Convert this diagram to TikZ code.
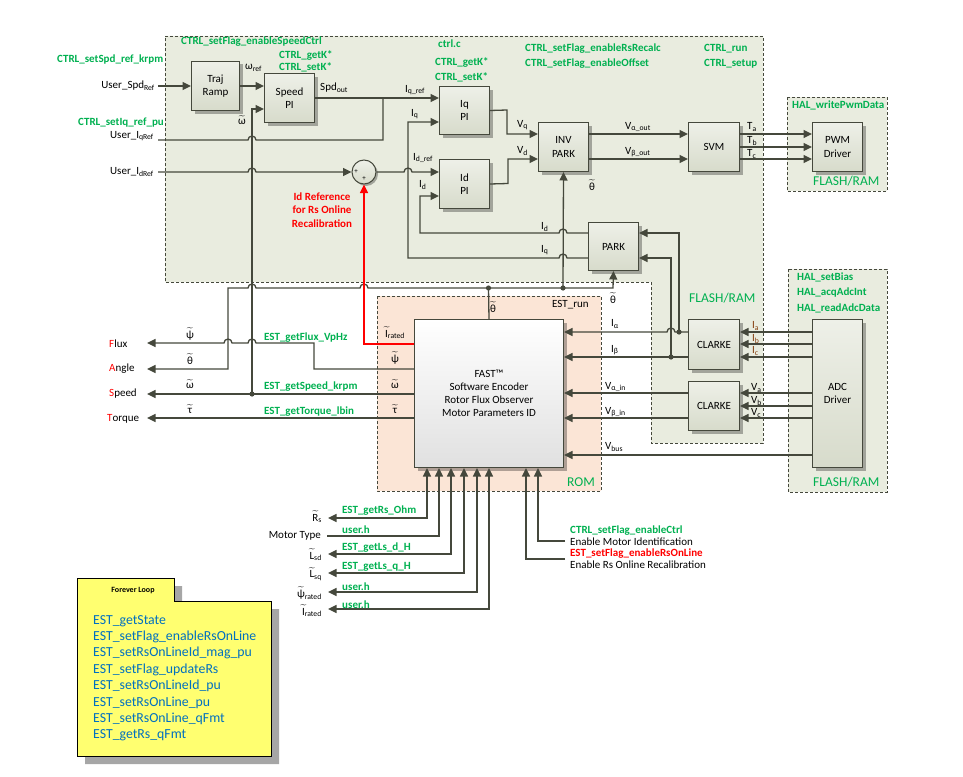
\documentclass[tikz,border=0pt]{standalone}
\usepackage{fontspec}
\usepackage{amsmath}
\setmainfont{Carlito}
\usetikzlibrary{arrows.meta,shadows}
\definecolor{lc}{HTML}{45483C}
\definecolor{grn}{HTML}{00B050}
\definecolor{bg}{HTML}{E9ECDF}
\definecolor{peach}{HTML}{FBE5D6}
\definecolor{blkT}{HTML}{EEF0E8}
\definecolor{blkB}{HTML}{D7DBCB}
\definecolor{blu}{HTML}{0070C0}
\definecolor{brn}{HTML}{843C0C}
\definecolor{noteY}{HTML}{FFFF70}
\newcommand{\fs}{\fontsize{11}{13.2}\selectfont}
\newcommand{\gf}{\fontsize{11}{13.2}\selectfont\bfseries}
\newcommand{\bigf}{\fontsize{13.5}{16}\selectfont}
\newcommand{\sbs}[1]{\textsubscript{#1}}
\newcommand{\tld}[1]{$\widetilde{\text{#1}}$}
\tikzset{
 ln/.style={draw=lc, line width=1.3pt},
 arr/.style={ln, -{Triangle[length=8.5pt,width=8pt]}},
 darr/.style={ln, {Triangle[length=8.5pt,width=8pt]}-{Triangle[length=8.5pt,width=8pt]}},
 redl/.style={draw=red, line width=1.2pt, -{Triangle[length=8.5pt,width=8pt]}},
 blk/.style={draw=lc, line width=1pt, top color=blkT, bottom color=blkB, anchor=north west,
   align=center, font=\fs, inner sep=0,
   drop shadow={shadow xshift=3pt, shadow yshift=-3pt, opacity=0.3, fill=black}},
 zone/.style={draw=lc, line width=0.8pt, dash pattern=on 3pt off 2pt},
 gl/.style={font=\gf, text=grn, anchor=west, inner sep=0},
 tl/.style={font=\fs, anchor=west, inner sep=0},
 tc/.style={font=\fs, inner sep=0},
 te/.style={font=\fs, anchor=east, inner sep=0},
 big/.style={font=\bigf, text=grn, anchor=west, inner sep=0},
 dotc/.style={fill=lc},
}
\begin{document}
\begin{tikzpicture}[x=1pt,y=-1pt]
\useasboundingbox (0,0) rectangle (963,776);
% ---------- zones
\fill[bg] (165,36) -- (763,36) -- (763,443) -- (651,443) -- (651,282) -- (165,282) -- cycle;
\draw[zone] (165,36) -- (763,36) -- (763,443) -- (651,443) -- (651,282) -- (165,282) -- cycle;
\fill[bg] (787,97) rectangle (887,191);
\draw[zone] (787,97) rectangle (887,191);
\fill[bg] (788,269) rectangle (887,492);
\draw[zone] (788,269) rectangle (887,492);
\fill[peach] (377,296) rectangle (601,491);
\draw[zone] (377,296) rectangle (601,491);
% ---------- blocks
\node[blk, minimum width=48pt, minimum height=49pt] (traj) at (191,61) {Traj\\Ramp};
\node[blk, minimum width=50pt, minimum height=49pt] (speed) at (264,73) {Speed\\PI};
\node[blk, minimum width=50pt, minimum height=48pt] (iqpi) at (439,86) {Iq\\PI};
\node[blk, minimum width=50pt, minimum height=49pt] (idpi) at (439,159) {Id\\PI};
\node[blk, minimum width=50pt, minimum height=49pt] (invpark) at (538,122) {INV\\PARK};
\node[blk, minimum width=51pt, minimum height=49pt] (svm) at (688,122) {SVM};
\node[blk, minimum width=50pt, minimum height=49pt] (pwm) at (812,122) {PWM\\Driver};
\node[blk, minimum width=50pt, minimum height=48pt] (park) at (588,222) {PARK};
\node[blk, minimum width=51pt, minimum height=50pt] (clarke1) at (688,319) {CLARKE};
\node[blk, minimum width=51pt, minimum height=49pt] (clarke2) at (688,381) {CLARKE};
\node[blk, minimum width=50pt, minimum height=148pt] (adc) at (812,319) {ADC\\Driver};
\node[draw=lc, line width=1pt, top color=white, bottom color=black!12, anchor=north west,
  minimum width=149pt, minimum height=148pt, align=center, font=\fs, inner sep=0,
  drop shadow={shadow xshift=3pt, shadow yshift=-3pt, opacity=0.3, fill=black}]
  (fast) at (414,319) {FAST™\\Software Encoder\\Rotor Flux Observer\\Motor Parameters ID};
\node[circle, draw=lc, line width=1pt, minimum size=24pt, inner sep=0, top color=blkT, bottom color=blkB,
  drop shadow={shadow xshift=2pt, shadow yshift=-2pt, opacity=0.3, fill=black}] (sum) at (364,172) {};
\node[inner sep=0, font=\scriptsize] (sumA) at (356,172) {+};
\node[inner sep=0, font=\scriptsize] (sumB) at (364,179) {+};
% ---------- coordinates
\coordinate (inSpd) at (158,86);
\coordinate (inIq) at (158,140);
\coordinate (inId) at (158,172);
\coordinate (wdot) at (252,394);
\coordinate (thdot) at (488.5,288);
\coordinate (pkdot) at (563,288);
\coordinate (iadot) at (679,332);
\coordinate (ibdot) at (671,357);
% ---------- connectors
\draw[arr] (inSpd) -- (inSpd -| traj.west);
\draw[arr] (traj.east) -- (traj.east -| speed.west);
\draw[arr] (wdot) -- (252,109) -- (speed.west |- 0,109);
\draw[arr] (speed.east) -- (speed.east -| iqpi.west);
\draw[ln] (inIq) -- (248,140) arc[start angle=180,end angle=0,radius=4pt] -- (383,140) -- (383,97.5);
\draw[arr] (inId) -- (248,172) arc[start angle=180,end angle=0,radius=4pt] -- (sum.west);
\draw[arr] (sum.east) -- (404,172) arc[start angle=180,end angle=0,radius=4pt] -- (sum.east -| idpi.west);
\draw[arr] (iqpi.east) -- (507,110) -- (507,134) -- (invpark.west |- 0,134);
\draw[arr] (idpi.east) -- (508,183.5) -- (508,159) -- (invpark.west |- 0,159);
\draw[arr] (invpark.east |- 0,134) -- (svm.west |- 0,134);
\draw[arr] (invpark.east |- 0,159) -- (svm.west |- 0,159);
\foreach \yy in {134,147,159} \draw[arr] (svm.east |- 0,\yy) -- (pwm.west |- 0,\yy);
% theta
\draw[ln] (fast.north) -- (thdot);
\draw[arr] (thdot) -- (613,288) -- (park.south);
\draw[arr] (pkdot) -- (invpark.south);
\draw[arr] (thdot) -- (368,288) arc[start angle=0,end angle=180,radius=4pt] -- (256,288)
   arc[start angle=0,end angle=180,radius=4pt] -- (228,288) -- (228,369) -- (147,369);
% outputs
\draw[arr] (fast.west |- 0,369) -- (314,369) -- (314,343) -- (256,343) arc[start angle=0,end angle=180,radius=4pt]
   -- (232,343) arc[start angle=0,end angle=180,radius=4pt] -- (147,343);
\draw[arr] (fast.west |- 0,394) -- (147,394);
\draw[arr] (fast.west |- 0,418) -- (147,418);
\draw[redl] (fast.west |- 0,344) -- (364,344) -- (sum.south);
% park feedback
\draw[arr] (park.west |- 0,233) -- (567,233) arc[start angle=0,end angle=180,radius=4pt] -- (420,233) -- (420,196) -- (idpi.west |- 0,196);
\draw[arr] (park.west |- 0,258) -- (567,258) arc[start angle=0,end angle=180,radius=4pt] -- (408,258) -- (408,122) -- (iqpi.west |- 0,122);
% clarke
\draw[arr] (clarke1.west |- 0,332) -- (675,332) arc[start angle=0,end angle=180,radius=4pt] -- (fast.east |- 0,332);
\draw[arr] (clarke1.west |- 0,357) -- (fast.east |- 0,357);
\draw[arr] (iadot) -- (679,233) -- (park.east |- 0,233);
\draw[arr] (ibdot) -- (671,258) -- (park.east |- 0,258);
\draw[arr] (clarke2.west |- 0,393) -- (fast.east |- 0,393);
\draw[arr] (clarke2.west |- 0,418) -- (fast.east |- 0,418);
\draw[arr] (adc.west |- 0,455) -- (fast.east |- 0,455);
\foreach \yy in {332,344,357} \draw[arr] (adc.west |- 0,\yy) -- (clarke1.east |- 0,\yy);
\foreach \yy in {393,406,418} \draw[arr] (adc.west |- 0,\yy) -- (clarke2.east |- 0,\yy);
% bottom parameters
\draw[darr] (328,518) -- (427,518) -- (427,0 |- fast.south);
\draw[arr] (327,536) -- (439,536) -- (439,0 |- fast.south);
\draw[darr] (328,554) -- (451,554) -- (451,0 |- fast.south);
\draw[darr] (328,573) -- (464,573) -- (464,0 |- fast.south);
\draw[darr] (328,592) -- (477,592) -- (477,0 |- fast.south);
\draw[darr] (328,609) -- (489,609) -- (489,0 |- fast.south);
\draw[arr] (565,541) -- (538,541) -- (538,0 |- fast.south);
\draw[arr] (565,559) -- (526,559) -- (526,0 |- fast.south);
% dots
\foreach \p in {wdot,thdot,pkdot,iadot,ibdot} \fill[dotc] (\p) circle[radius=2.6pt];
% ---------- green labels
\node[gl] (g1) at (57,60) {CTRL\_setSpd\_ref\_krpm};
\node[gl] (g2) at (78,123) {CTRL\_setIq\_ref\_pu};
\node[gl] (g3) at (181,42) {CTRL\_setFlag\_enableSpeedCtrl};
\node[gl] (g4) at (279,55) {CTRL\_getK*};
\node[gl] (g5) at (279,67) {CTRL\_setK*};
\node[gl] (g6) at (438,44) {ctrl.c};
\node[gl] (g7) at (435,62) {CTRL\_getK*};
\node[gl] (g8) at (435,77) {CTRL\_setK*};
\node[gl] (g9) at (525,49) {CTRL\_setFlag\_enableRsRecalc};
\node[gl] (g10) at (525,64) {CTRL\_setFlag\_enableOffset};
\node[gl] (g11) at (704,49) {CTRL\_run};
\node[gl] (g12) at (704,64) {CTRL\_setup};
\node[gl] (g13) at (792,105) {HAL\_writePwmData};
\node[gl] (g14) at (797,277) {HAL\_setBias};
\node[gl] (g15) at (797,293) {HAL\_acqAdcInt};
\node[gl] (g16) at (797,308) {HAL\_readAdcData};
\node[gl] (g17) at (264,338) {EST\_getFlux\_VpHz};
\node[gl] (g18) at (264,387) {EST\_getSpeed\_krpm};
\node[gl] (g19) at (264,412) {EST\_getTorque\_lbin};
\node[gl] (g20) at (342,511) {EST\_getRs\_Ohm};
\node[gl] (g21) at (342,530) {user.h};
\node[gl] (g22) at (342,548) {EST\_getLs\_d\_H};
\node[gl] (g23) at (342,567) {EST\_getLs\_q\_H};
\node[gl] (g24) at (342,587) {user.h};
\node[gl] (g25) at (342,605) {user.h};
\node[gl] (g26) at (570,531) {CTRL\_setFlag\_enableCtrl};
\node[gl, text=red] (g27) at (570,554) {EST\_setFlag\_enableRsOnLine};
\node[big] (f1) at (813,181) {FLASH/RAM};
\node[big] (f2) at (689,298) {FLASH/RAM};
\node[big] (f3) at (813,482) {FLASH/RAM};
\node[big] (f4) at (567,482) {ROM};
% ---------- black labels
\node[te] (u1) at (155,86) {User\_Spd\sbs{Ref}};
\node[te] (u2) at (154,136) {User\_I\sbs{qRef}};
\node[te] (u3) at (154,172) {User\_I\sbs{dRef}};
\node[tl] (l1) at (245,68) {ω\sbs{ref}};
\node[tc] (l2) at (242,120) {\tld{ω}};
\node[tl] (l3) at (320,88) {Spd\sbs{out}};
\node[tl] (l4) at (405,90) {I\sbs{q\_ref}};
\node[tl] (l5) at (411,114) {I\sbs{q}};
\node[tl] (l6) at (413,158) {I\sbs{d\_ref}};
\node[tl] (l7) at (419,185) {I\sbs{d}};
\node[tl] (l8) at (517,125) {V\sbs{q}};
\node[tl] (l9) at (517,151) {V\sbs{d}};
\node[tl] (l10) at (625,127) {V\sbs{α\_out}};
\node[tl] (l11) at (625,152) {V\sbs{β\_out}};
\node[tl] (l12) at (747,127) {T\sbs{a}};
\node[tl] (l13) at (747,141) {T\sbs{b}};
\node[tl] (l14) at (747,154) {T\sbs{c}};
\node[tc] (l15) at (592,185) {\tld{θ}};
\node[tl] (l16) at (541,227) {I\sbs{d}};
\node[tl] (l17) at (541,250) {I\sbs{q}};
\node[tc] (l18) at (613,298) {\tld{θ}};
\node[tl] (l19) at (552,305) {EST\_run};
\node[tc] (l20) at (493,307) {\tld{θ}};
\node[tl] (l21) at (611,324) {I\sbs{α}};
\node[tl] (l22) at (611,350) {I\sbs{β}};
\node[tl] (l23) at (605,387) {V\sbs{α\_in}};
\node[tl] (l24) at (605,412) {V\sbs{β\_in}};
\node[tl] (l25) at (605,447) {V\sbs{bus}};
\node[tl, text=brn] (l26) at (752,326) {I\sbs{a}};
\node[tl, text=brn] (l27) at (752,339) {I\sbs{b}};
\node[tl, text=brn] (l28) at (752,351) {I\sbs{c}};
\node[tl] (l29) at (751,388) {V\sbs{a}};
\node[tl] (l30) at (751,401) {V\sbs{b}};
\node[tl] (l31) at (751,413) {V\sbs{c}};
\node[tl] (l32) at (385,333) {\tld{I}\sbs{rated}};
\node[tc] (l33) at (395,358) {\tld{ψ}};
\node[tc] (l34) at (395,384) {\tld{ω}};
\node[tc] (l35) at (395,409) {\tld{τ}};
\node[tc] (l36) at (190,334) {\tld{ψ}};
\node[tc] (l37) at (190,359) {\tld{θ}};
\node[tc] (l38) at (190,384) {\tld{ω}};
\node[tc] (l39) at (190,409) {\tld{τ}};
\node[tl] (o1) at (109,344) {{\color{red}F}lux};
\node[tl] (o2) at (109,369) {{\color{red}A}ngle};
\node[tl] (o3) at (109,394) {{\color{red}S}peed};
\node[tl] (o4) at (107,419) {{\color{red}T}orque};
\node[font=\gf, text=red, align=center, inner sep=0] (idref) at (322,210) {Id Reference\\for Rs Online\\Recalibration};
\node[te] (p1) at (322,517) {\tld{R}\sbs{s}};
\node[te] (p2) at (321,536) {Motor Type};
\node[te] (p3) at (322,555) {\tld{L}\sbs{sd}};
\node[te] (p4) at (322,574) {\tld{L}\sbs{sq}};
\node[te] (p5) at (322,593) {\tld{ψ}\sbs{rated}};
\node[te] (p6) at (322,611) {\tld{I}\sbs{rated}};
\node[tl] (e1) at (570,542) {Enable Motor Identification};
\node[tl] (e2) at (570,565) {Enable Rs Online Recalibration};
% ---------- forever loop note
\fill[black!35] (85,586) -- (182,586) -- (182,609) -- (279,609) -- (279,764) -- (85,764) -- cycle;
\draw[line width=1pt, fill=noteY] (77,578) -- (174,578) -- (174,601) -- (271,601) -- (271,756) -- (77,756) -- cycle;
\node[font=\fontsize{8}{9}\selectfont\bfseries, inner sep=0] (looptitle) at (133,591) {Forever Loop};
\node[anchor=north west, align=left, font=\fontsize{13.8}{16.4}\selectfont, text=blu, inner sep=0] (loop) at (93,615)
 {EST\_getState\\EST\_setFlag\_enableRsOnLine\\EST\_setRsOnLineId\_mag\_pu\\EST\_setFlag\_updateRs\\EST\_setRsOnLineId\_pu\\EST\_setRsOnLine\_pu\\EST\_setRsOnLine\_qFmt\\EST\_getRs\_qFmt};
\end{tikzpicture}
\end{document}
